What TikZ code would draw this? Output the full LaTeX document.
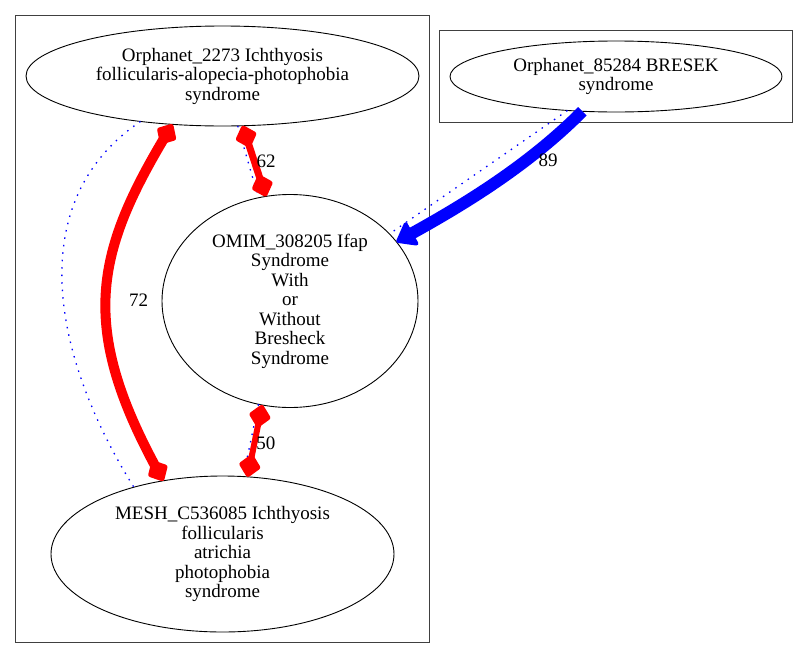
\documentclass[tikz,border=0pt]{standalone}
\usepackage{fontspec}
\setmainfont{Liberation Serif}
\usetikzlibrary{arrows.meta, fit, positioning, shapes.geometric}
\tikzset {
  cluster/.style = {draw=black!75, line width=1.1pt, rectangle, inner sep=10.5pt},
  disease/.style = {draw, line width=0.9pt, ellipse, inner sep=0pt, outer sep=0pt, align=center, font=\fontsize{19}{19.5}\selectfont},
  weight/.style = {font=\fontsize{19}{19.5}\selectfont, inner sep=0pt},
  redline/.style = {draw=red, {Diamond[length=25pt, width=23pt, line width=5pt, round]}-{Diamond[length=25pt, width=23pt, line width=5pt, round]}},
  blueline/.style = {draw=blue, line width=12pt, -{Triangle[length=20pt, width=29pt, line width=4pt, round]}},
  hint/.style = {draw=blue, line width=1.3pt, dash pattern=on 1.5pt off 6pt}
}
\pgfdeclarelayer{background}
\pgfsetlayers{background,main}
\begin{document}
\begin{tikzpicture}[x=1pt, y=-1pt]
    \useasboundingbox (0,0) rectangle (808,659);

    \node[disease, minimum width=393pt, minimum height=100pt] (o2273) at (222.5,76) {Orphanet\_2273 Ichthyosis\\follicularis-alopecia-photophobia\\syndrome};
    \node[disease, minimum width=343pt, minimum height=156pt, below=350pt of o2273] (mesh) {MESH\_C536085 Ichthyosis\\follicularis\\atrichia\\photophobia\\syndrome};
    \node[disease, minimum width=256pt, minimum height=213pt] (omim) at (290,301) {OMIM\_308205 Ifap\\Syndrome\\With\\or\\Without\\Bresheck\\Syndrome};
    \node[disease, minimum width=332pt, minimum height=71pt] (o85284) at (616,76.5) {Orphanet\_85284 BRESEK\\syndrome};

    \begin{pgfonlayer}{background}
      \node[cluster, fit=(o2273)(omim)(mesh)] (left) {};
      \node[cluster, fit=(o85284)] (right) {};
    \end{pgfonlayer}

    % dotted links
    \draw[hint] (o2273.209) .. controls (24,200) and (50,353) .. (mesh.143);
    \draw[hint] (o2273.287) -- (omim.107);
    \draw[hint] (omim.253) -- (mesh.75);
    \draw[hint] (o85284.215) -- (omim.34);

    \draw[redline, line width=10pt] (o2273.224) .. controls (95,254) and (80,327) .. (mesh.129) node[weight, pos=0.5, xshift=31pt, yshift=-7pt] {72};
    \draw[redline, line width=7pt] (o2273.292) -- (omim.103) node[weight, midway, xshift=12pt] {62};
    \draw[redline, line width=6pt] (omim.255) -- (mesh.72) node[weight, midway, xshift=11pt, yshift=-2pt] {50};
    \draw[blueline] (o85284.226) .. controls (528,166) and (463,205) .. (omim.29) node[weight, pos=0.5, xshift=54pt, yshift=23pt] {89};

\end{tikzpicture}
\end{document}
